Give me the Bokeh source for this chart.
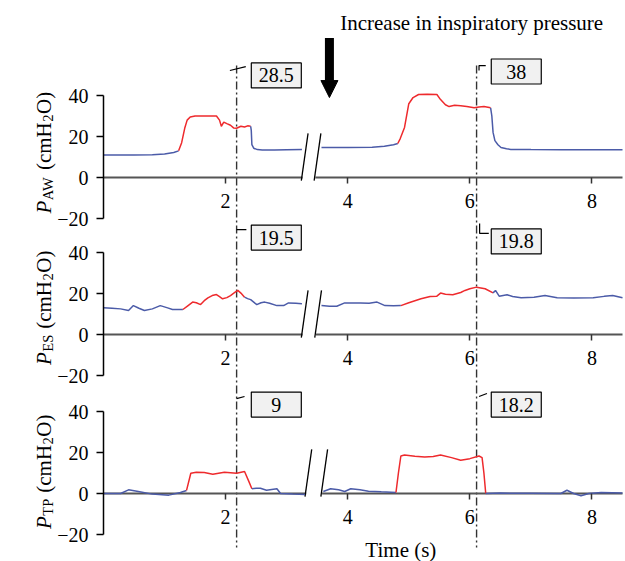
import math
from bokeh.plotting import figure
from bokeh.models import Range1d, LinearAxis, FixedTicker, Label, Arrow, NormalHead
from bokeh.core.properties import value
from bokeh.embed import file_html
from bokeh.resources import INLINE

# ---------------- data ----------------
X_TICKS = [2, 4, 6, 8]
Y_TICKS = [-20, 0, 20, 40]
Y_TICK_TEXT = {-20: "\u221220", 0: "0", 20: "20", 40: "40"}
ANNOT_T = [2.18, 6.11]            # times of the dash-dot markers (s)

PAW_ANNOT = ["28.5", "38"]
PES_ANNOT = ["19.5", "19.8"]
PTP_ANNOT = ["9", "18.2"]

# Airway pressure
PAW_L_T = [0.0, 0.5, 0.8, 1.0, 1.15, 1.23, 1.28, 1.33, 1.37, 1.42, 1.5, 1.7, 1.85, 1.9, 1.93, 1.97,
           2.02, 2.08, 2.13, 2.18, 2.25, 2.31, 2.36, 2.41, 2.42, 2.43, 2.46, 2.52, 2.6, 2.8, 3.0, 3.25]
PAW_L_V = [11.0, 11.0, 11.1, 11.5, 12.2, 13.0, 17.0, 24.0, 28.0, 29.5, 30.0, 30.0, 30.0, 28.0, 25.0, 27.0,
           26.3, 25.5, 24.2, 24.0, 25.0, 24.6, 25.2, 25.0, 23.0, 16.0, 14.3, 13.6, 13.4, 13.4, 13.5, 13.6]
PAW_L_INSP = [1.23, 2.41]
PAW_R_T = [3.57, 4.0, 4.4, 4.6, 4.75, 4.82, 4.86, 4.93, 5.0, 5.07, 5.16, 5.3, 5.46, 5.52, 5.6, 5.66,
           5.75, 5.85, 5.95, 6.07, 6.15, 6.23, 6.34, 6.36, 6.38, 6.41, 6.46, 6.51, 6.6, 6.67, 7.0, 7.5, 8.5]
PAW_R_V = [14.6, 14.6, 14.8, 15.2, 16.0, 16.6, 19.0, 24.4, 36.0, 39.0, 40.5, 40.6, 40.5, 38.0, 35.5, 34.6,
           35.2, 35.0, 34.6, 34.0, 34.4, 34.6, 34.0, 30.0, 22.0, 18.0, 16.0, 14.6, 14.0, 13.7, 13.6, 13.5, 13.5]
PAW_R_INSP = [4.82, 6.34]

# Esophageal pressure
PES_L_T = [0.0, 0.14, 0.28, 0.41, 0.49, 0.58, 0.67, 0.8, 0.93, 1.05, 1.13, 1.3, 1.38, 1.46, 1.52, 1.59,
           1.65, 1.71, 1.78, 1.85, 1.9, 1.95, 2.02, 2.08, 2.15, 2.2, 2.25, 2.31, 2.36, 2.41, 2.51, 2.58,
           2.64, 2.72, 2.84, 2.95, 3.03, 3.15, 3.25]
PES_L_V = [13.0, 12.8, 12.5, 11.7, 14.1, 12.8, 11.7, 12.5, 14.1, 13.0, 12.2, 12.2, 14.0, 15.8, 15.5, 14.6,
           16.5, 17.9, 19.0, 19.5, 18.5, 17.4, 18.0, 19.0, 20.5, 21.5, 20.2, 18.2, 17.5, 17.0, 14.6, 15.5,
           15.8, 15.2, 14.1, 14.1, 15.4, 15.2, 15.0]
PES_L_INSP = [1.3, 2.31]
PES_R_T = [3.57, 3.7, 3.82, 3.95, 4.21, 4.35, 4.48, 4.61, 4.75, 4.87, 5.0, 5.2, 5.35, 5.46, 5.52, 5.6,
           5.72, 5.85, 5.92, 6.0, 6.11, 6.25, 6.38, 6.42, 6.48, 6.61, 6.7, 6.84, 7.05, 7.23, 7.43, 7.7,
           8.02, 8.2, 8.34, 8.5]
PES_R_V = [14.1, 13.8, 13.8, 15.4, 15.4, 15.3, 15.8, 14.1, 14.0, 14.1, 15.5, 17.4, 18.5, 18.7, 20.2, 19.6,
           19.4, 20.5, 21.5, 22.3, 23.1, 22.3, 20.3, 21.5, 18.7, 19.4, 18.5, 17.9, 18.2, 19.0, 17.9, 17.8,
           17.9, 18.6, 19.0, 17.9]
PES_R_INSP = [4.87, 6.38]

# Transpulmonary pressure
PTP_L_T = [0.0, 0.28, 0.41, 0.57, 0.8, 1.07, 1.26, 1.36, 1.43, 1.52, 1.65, 1.79, 1.98, 2.18, 2.31, 2.38,
           2.43, 2.5, 2.57, 2.67, 2.84, 2.9, 3.1, 3.3]
PTP_L_V = [0.0, 0.0, 1.8, 1.0, -0.3, -0.8, 0.5, 1.5, 9.9, 10.4, 10.2, 9.4, 10.4, 9.9, 10.7, 5.9,
           2.3, 2.6, 2.6, 1.6, 2.3, 0.0, -0.3, -0.5]
PTP_L_INSP = [1.36, 2.43]
PTP_R_T = [3.6, 3.72, 3.85, 3.95, 4.05, 4.2, 4.34, 4.55, 4.79, 4.83, 4.87, 4.93, 5.1, 5.26, 5.4, 5.52,
           5.7, 5.85, 6.0, 6.15, 6.2, 6.23, 6.26, 6.5, 7.0, 7.49, 7.59, 7.7, 7.82, 7.95, 8.15, 8.5]
PTP_R_V = [1.0, 2.3, 1.8, 1.0, 2.3, 1.8, 1.1, 0.8, 0.5, 10.0, 18.3, 18.8, 18.2, 17.8, 18.0, 18.8,
           17.5, 16.2, 17.0, 18.3, 17.5, 10.0, 0.0, 0.2, 0.1, 0.0, 1.6, 0.0, -1.1, 0.0, 0.5, 0.2]
PTP_R_INSP = [4.79, 6.26]

TITLE = "Increase in inspiratory pressure"
X_LABEL = "Time (s)"

# ---------------- style / layout ----------------
FONT = "Liberation Serif"
RED = "#ee2a2d"
BLUE = "#4b5ba8"
ZERO_COL = "#555555"
W, H = 625, 561
X0_PX = 103          # pixel column of t = 0
XPU = 61.06          # pixels per second
PXU = 2.05           # pixels per cmH2O
ZERO_PX = [177, 334, 493]   # pixel rows of the three zero lines
RANGE_NAMES = ["default", "pes", "ptp"]

EM = {' ': 0.25, '(': 0.333, ')': 0.333, 'c': 0.444, 'm': 0.778, 'H': 0.722, 'O': 0.722,
      '2': 0.5, 'A': 0.722, 'W': 0.944, 'E': 0.611, 'S': 0.556, 'T': 0.611, 'P': 0.556}


def text_w(s, size, italic=False):
    return sum((0.611 if (italic and ch == 'P') else EM.get(ch, 0.5)) for ch in s) * size


def split(t, v, insp):
    a, b = insp
    pre = [(x, y) for x, y in zip(t, v) if x <= a]
    ins = [(x, y) for x, y in zip(t, v) if a <= x <= b]
    post = [(x, y) for x, y in zip(t, v) if x >= b]
    return pre, ins, post


def yr(z):
    return Range1d((z - H) / PXU, z / PXU)


x_start = -X0_PX / XPU
x_end = x_start + W / XPU

p = figure(width=W, height=H, x_range=Range1d(x_start, x_end), y_range=yr(ZERO_PX[0]),
           x_axis_type=None, y_axis_type=None, toolbar_location=None, output_backend="svg",
           min_border_left=0, min_border_right=0, min_border_top=0, min_border_bottom=0)
p.extra_y_ranges = {"pes": yr(ZERO_PX[1]), "ptp": yr(ZERO_PX[2])}
p.outline_line_color = None
p.background_fill_color = "white"
p.border_fill_color = "white"

PANELS = [
    dict(sub="AW", annot=PAW_ANNOT, segs=[(PAW_L_T, PAW_L_V, PAW_L_INSP), (PAW_R_T, PAW_R_V, PAW_R_INSP)],
         box_y=[49.8, 51.7], brk=(3.26, 3.47), lab_y=-17.6,
         lead=[([-0.11, 0.15], [2.4, 4.3]), ([0.04, 0.04, 0.15], [0.5, 2.9, 2.9])]),
    dict(sub="ES", annot=PES_ANNOT, segs=[(PES_L_T, PES_L_V, PES_L_INSP), (PES_R_T, PES_R_V, PES_R_INSP)],
         box_y=[47.3, 45.4], brk=(3.26, 3.48), lab_y=-14.9,
         lead=[([0.0, 0.16], [3.9, 3.9]), ([0.05, 0.05, 0.2], [8.7, 3.9, 3.9])]),
    dict(sub="TP", annot=PTP_ANNOT, segs=[(PTP_L_T, PTP_L_V, PTP_L_INSP), (PTP_R_T, PTP_R_V, PTP_R_INSP)],
         box_y=[43.4, 43.4], brk=(3.32, 3.58), lab_y=-17.3,
         lead=[([0.0, 0.13], [2.9, 3.9]), ([0.04, 0.17], [3.9, 5.4])]),
]

# dash-dot markers: one continuous line through all panels (panel-1 units)
dd_top = (ZERO_PX[0] - 65) / PXU
dd_bot = (ZERO_PX[0] - 547) / PXU
p.segment(x0=ANNOT_T, y0=[dd_top] * 2, x1=ANNOT_T, y1=[dd_bot] * 2, line_color="#333333",
          line_width=1.4, line_dash="8 3 2 3")

for i, cfg in enumerate(PANELS):
    rn = RANGE_NAMES[i]

    yax = LinearAxis(y_range_name=rn, fixed_location=0, ticker=FixedTicker(ticks=Y_TICKS), bounds=(-20, 40),
                     axis_line_color="black", axis_line_width=1.5,
                     major_tick_line_color="black", major_tick_line_width=1.5,
                     major_tick_out=7, major_tick_in=0, minor_tick_line_color=None,
                     major_label_text_font=FONT, major_label_text_font_size="20px",
                     major_label_text_color="black", major_label_standoff=8,
                     major_label_overrides=Y_TICK_TEXT)
    p.add_layout(yax, "left")

    xax = LinearAxis(y_range_name=rn, fixed_location=0, ticker=FixedTicker(ticks=X_TICKS), axis_line_color=None,
                     major_tick_line_color="#333333", major_tick_line_width=1.5,
                     major_tick_out=6, major_tick_in=0, minor_tick_line_color=None,
                     major_label_text_font=FONT, major_label_text_font_size="20px",
                     major_label_text_color="black", major_label_standoff=10)
    p.add_layout(xax, "below")

    # broken zero line
    b0, b1 = cfg["brk"]
    p.segment(x0=[0, b1], y0=[0, 0], x1=[b0, 8.5], y1=[0, 0], line_color=ZERO_COL, line_width=2.2,
              y_range_name=rn)
    p.segment(x0=[b0 - 0.02, b1 - 0.02], y0=[-1.5, -1.5], x1=[b0 + 0.09, b1 + 0.09], y1=[21.5, 21.5],
              line_color="black", line_width=1.3, y_range_name=rn)

    # traces
    for t, v, insp in cfg["segs"]:
        pre, ins, post = split(t, v, insp)
        for part, col in ((pre, BLUE), (ins, RED), (post, BLUE)):
            p.line([q[0] for q in part], [q[1] for q in part], line_color=col, line_width=1.5,
                   y_range_name=rn)

    # leaders
    xs, ys = [], []
    for t, by, (dx, dy) in zip(ANNOT_T, cfg["box_y"], cfg["lead"]):
        xs.append([t + d for d in dx])
        ys.append([by + d for d in dy])
    p.multi_line(xs=xs, ys=ys, line_color="black", line_width=1.2, y_range_name=rn)

    # boxes
    bx = [t + 0.65 for t in ANNOT_T]
    p.rect(x=bx, y=cfg["box_y"], width=50, height=25, width_units="screen", height_units="screen",
           fill_color="#f1f1f1", line_color="black", line_width=1.2, y_range_name=rn)
    p.text(x=bx, y=cfg["box_y"], text=cfg["annot"], text_align="center", text_baseline="middle",
           text_font=value(FONT), text_font_size="20px", text_color="black", y_range_name=rn)

    # y axis title made of pieces (with subscripts), rotated; (text, size, style, baseline shift, gap before)
    pieces = [("P", 21, "italic", 0, 0), (cfg["sub"], 14.5, "normal", 4.5, 0.5),
              ("(cmH", 21, "normal", 0, 6.0), ("2", 14.5, "normal", 4.5, 0.5), ("O)", 21, "normal", 0, 0.5)]
    cum = 0.0
    for s, size, style, shift, gap in pieces:
        cum += gap
        p.add_layout(Label(x=(-60 + shift) / XPU, y=cfg["lab_y"] + cum / PXU, y_range_name=rn,
                           angle=math.pi / 2, text=s, text_font=FONT, text_font_size=f"{size}px",
                           text_font_style=style, text_align="left", text_baseline="alphabetic",
                           text_color="black"))
        cum += text_w(s, size, italic=(style == "italic"))

# title + arrow (panel 1 units)
p.add_layout(Label(x=6.03, y=(ZERO_PX[0] - 22) / PXU, text=TITLE, text_align="center", text_baseline="middle",
                   text_font=FONT, text_font_size="21px", text_color="black"))
p.add_layout(Arrow(end=NormalHead(size=17, fill_color="black", line_color="black"),
                   x_start=3.7, y_start=68, x_end=3.7, y_end=39, line_width=9, line_color="black"))
# x label (panel 3 units)
p.add_layout(Label(x=4.87, y=(ZERO_PX[2] - 549) / PXU, y_range_name="ptp", text=X_LABEL,
                   text_align="center", text_baseline="middle",
                   text_font=FONT, text_font_size="21px", text_color="black"))

open("out.html", "w").write(file_html(p, INLINE))
